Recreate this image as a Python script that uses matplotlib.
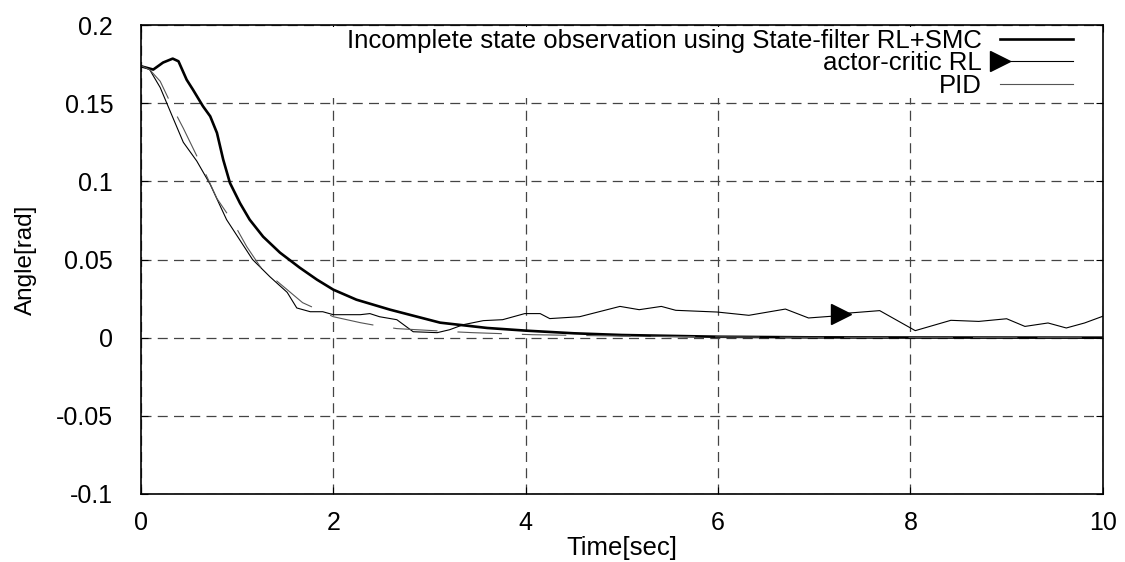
import matplotlib
matplotlib.use("Agg")
import matplotlib.pyplot as plt
from matplotlib.lines import Line2D
from matplotlib.patches import Rectangle
from matplotlib.legend_handler import HandlerLine2D

plt.rcParams['font.family'] = ['Liberation Sans', 'DejaVu Sans']

# state-filter RL + SMC (thick)
smc_t = [0, 0.128, 0.23, 0.33, 0.39, 0.475, 0.54, 0.645, 0.72, 0.79, 0.855, 0.925, 1.03, 1.13,
         1.27, 1.445, 1.65, 1.83, 2.0, 2.24, 2.59, 3.11, 3.6, 4.0, 4.5, 5.0, 6.0, 7.0, 8.0, 10.0]
smc_v = [0.1736, 0.1715, 0.176, 0.1785, 0.1768, 0.165, 0.1587, 0.148, 0.1416, 0.131, 0.1139, 0.099,
         0.086, 0.0755, 0.0646, 0.0544, 0.0448, 0.0371, 0.0307, 0.0243, 0.0179, 0.0096, 0.0062,
         0.0045, 0.0028, 0.0017, 0.0006, 0.0002, 0.0001, 0.0]

# actor-critic RL (thin, noisy)
ac_t = [0, 0.09, 0.2, 0.33, 0.44, 0.58, 0.72, 0.89, 1.16, 1.34, 1.52, 1.62, 1.76, 1.89, 2.0, 2.28,
        2.38, 2.48, 2.66, 2.83, 3.08, 3.21, 3.35, 3.56, 3.76, 3.99, 4.15, 4.25, 4.56, 4.98, 5.18,
        5.41, 5.56, 5.99, 6.32, 6.7, 6.94, 7.18, 7.37, 7.68, 8.05, 8.42, 8.71, 9.0, 9.19, 9.43,
        9.62, 9.81, 10.0]
ac_v = [0.174, 0.1715, 0.160, 0.141, 0.125, 0.113, 0.098, 0.0755, 0.050, 0.039, 0.029, 0.019,
        0.0166, 0.0166, 0.0147, 0.0147, 0.0154, 0.0134, 0.0115, 0.0038, 0.0032, 0.0051, 0.0083,
        0.0109, 0.0115, 0.0154, 0.0154, 0.0122, 0.0134, 0.0200, 0.0179, 0.0200, 0.0175, 0.0164,
        0.0143, 0.0183, 0.0126, 0.0137, 0.0158, 0.0173, 0.0045, 0.0111, 0.0104, 0.0121, 0.0072,
        0.0094, 0.0062, 0.0094, 0.0137]
ac_marker_t = 7.28
ac_marker_v = 0.0152

# PID (gray dashed)
pid_t = [0, 0.09, 0.2, 0.35, 0.44, 0.69, 0.79, 0.96, 1.1, 1.24, 1.37, 1.52, 1.68, 2.0, 2.28,
         2.45, 2.66, 3.24, 3.45, 4.07, 5.0, 6.0, 7.0, 10.0]
pid_v = [0.174, 0.1715, 0.164, 0.1446, 0.134, 0.1024, 0.089, 0.0736, 0.0582, 0.0454, 0.0384,
         0.0307, 0.0224, 0.0134, 0.0096, 0.0077, 0.0058, 0.0038, 0.0032, 0.0019, 0.001, 0.0005,
         0.0002, 0.0]

labels = ['Incomplete state observation using State-filter RL+SMC', 'actor-critic RL', 'PID']


class LeftMarker(HandlerLine2D):
    # legend sample: line with the triangle sitting on its left end
    def create_artists(self, legend, orig_handle, xdescent, ydescent, width, height, fontsize, trans):
        y = height / 2 - ydescent
        line = Line2D([-xdescent, -xdescent + width], [y, y], color='black', linewidth=0.8)
        mark = Line2D([-xdescent], [y], linestyle='none', marker='>', markersize=14, color='black')
        line.set_transform(trans)
        mark.set_transform(trans)
        return [line, mark]


fig = plt.figure(figsize=(11.25, 5.62), dpi=100)
ax = fig.add_axes([0.1253, 0.121, 0.855, 0.8345])

ax.plot(smc_t, smc_v, color='black', linewidth=1.9)
ax.plot(ac_t, ac_v, color='black', linewidth=0.8)
ax.plot([ac_marker_t], [ac_marker_v], linestyle='none', marker='>', markersize=14, color='black')
l3, = ax.plot(pid_t, pid_v, color='#555555', linewidth=0.8)
l3.set_dashes([40, 18])

# white key area hides the grid behind the legend (like gnuplot)
ax.add_patch(Rectangle((0.19, 0.845), 0.81, 0.15, transform=ax.transAxes,
                       facecolor='white', edgecolor='none', zorder=1.8))

# legend samples
h1 = Line2D([], [], color='black', linewidth=1.9)
h2 = Line2D([], [], color='black', linewidth=0.8)
h3 = Line2D([], [], color='#555555', linewidth=0.8)
ax.legend([h1, h2, h3], labels,
          loc='upper right', bbox_to_anchor=(0.969, 0.992), frameon=False,
          markerfirst=False, fontsize=18.5, handlelength=2.84, handletextpad=0.7,
          labelspacing=-0.05, borderpad=0, borderaxespad=0,
          handler_map={h2: LeftMarker()})

ax.set_xlim(0, 10)
ax.set_ylim(-0.1, 0.2)
ax.set_xticks([0, 2, 4, 6, 8, 10])
ax.set_yticks([-0.1, -0.05, 0, 0.05, 0.1, 0.15, 0.2])
ax.set_yticklabels(['-0.1', '-0.05', '0', '0.05', '0.1', '0.15', '0.2'])
ax.grid(True, color='#444444', linestyle=(0, (8, 5)), linewidth=0.9)
ax.tick_params(direction='in', top=True, right=True, length=5, labelsize=18)
ax.tick_params(axis='y', pad=20)
ax.tick_params(axis='x', pad=12)
for s in ax.spines.values():
    s.set_linewidth(1.2)

ax.set_xlabel('Time[sec]', fontsize=18.5, labelpad=1)
ax.set_ylabel('Angle[rad]', fontsize=17.5, labelpad=14)

plt.savefig('out.png')
